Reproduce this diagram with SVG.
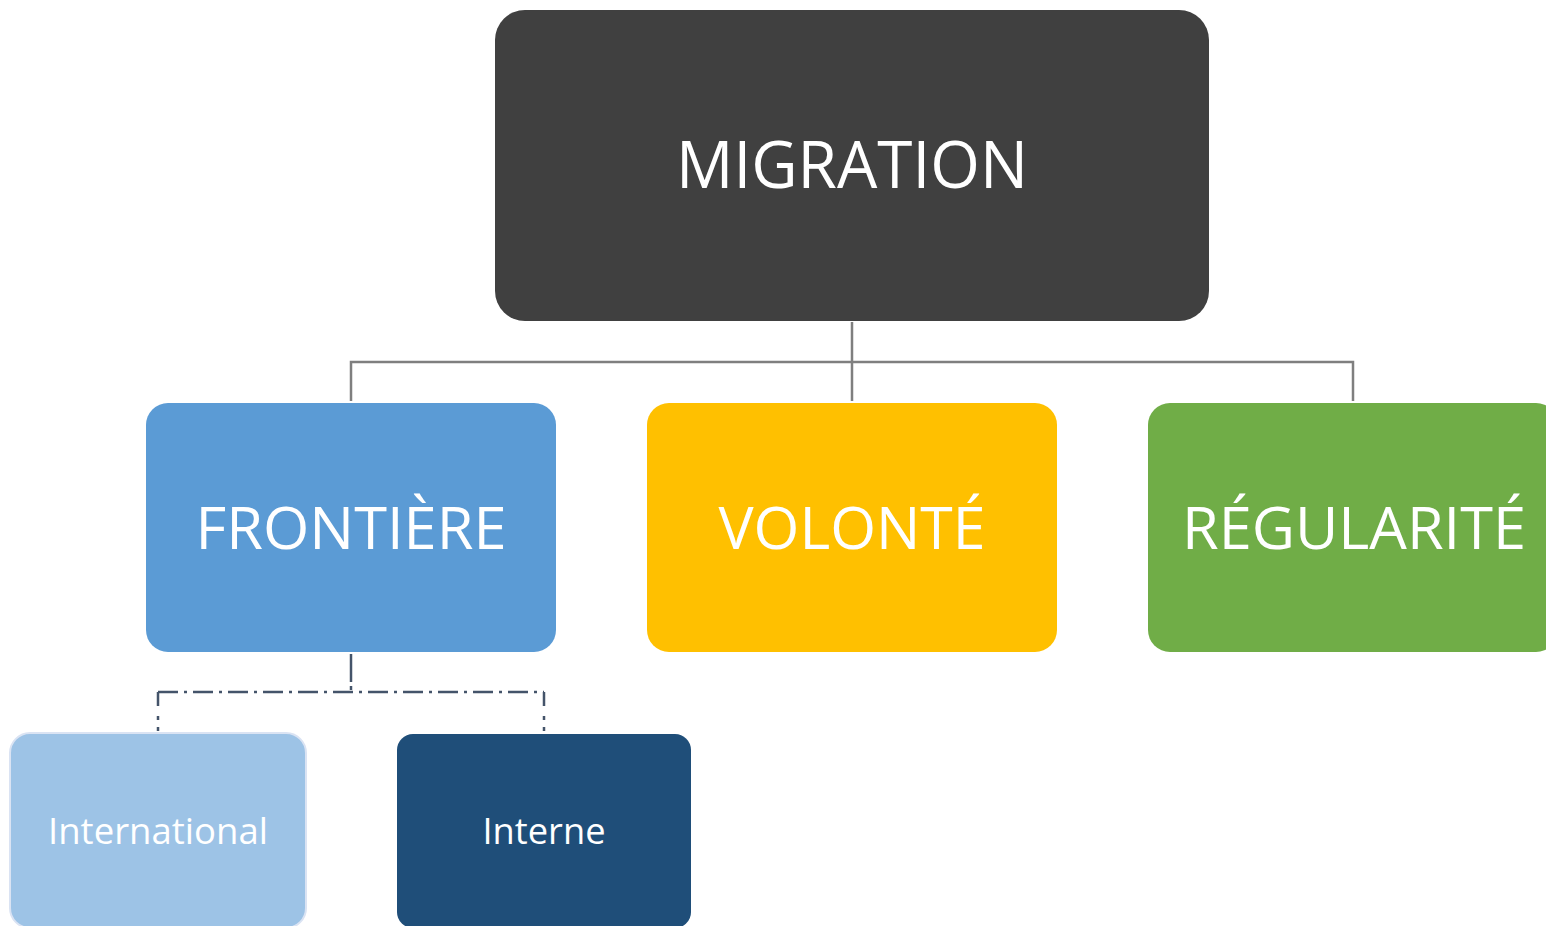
<svg xmlns="http://www.w3.org/2000/svg" width="1546" height="926" viewBox="0 0 1546 926">
<style>
.t{font-family:"Open Sans","Noto Sans","Liberation Sans",sans-serif;fill:#ffffff;text-anchor:middle}
.big{font-size:66px}
.mid{font-size:58px}
.small{font-size:36px}
.c1{fill:none;stroke:#7f7f7f;stroke-width:2.5}
.c2{fill:none;stroke:#44546a;stroke-width:2.5}
</style>
<rect width="1546" height="926" fill="#ffffff"/>
<g id="connectors">
<path class="c1" d="M852 322V401M351 401V362H1353V401"/>
<path class="c2" d="M351 654V682"/>
<path class="c2" d="M351 686V690"/>
<path class="c2" d="M158 692H544" stroke-dasharray="20 6 3 6"/>
<path class="c2" d="M158 692V706M544 692V706"/>
<path class="c2" d="M158 716V720M158 727V731M544 716V720M544 727V731"/>
</g>
<g id="migration">
<rect x="495" y="10" width="714" height="311" rx="30" fill="#404040"/>
<text class="t big" x="852" y="188" textLength="352" lengthAdjust="spacingAndGlyphs">MIGRATION</text>
</g>
<g id="frontiere">
<rect x="146" y="403" width="410" height="249" rx="22" fill="#5b9bd5"/>
<text class="t mid" x="351" y="549" textLength="311" lengthAdjust="spacingAndGlyphs">FRONTIÈRE</text>
</g>
<g id="volonte">
<rect x="647" y="403" width="410" height="249" rx="22" fill="#ffc000"/>
<text class="t mid" x="852" y="549" textLength="267" lengthAdjust="spacingAndGlyphs">VOLONTÉ</text>
</g>
<g id="regularite">
<rect x="1148" y="403" width="410" height="249" rx="22" fill="#70ad47"/>
<text class="t mid" x="1354" y="549" textLength="344" lengthAdjust="spacingAndGlyphs">RÉGULARITÉ</text>
</g>
<g id="international">
<rect x="10" y="733" width="296" height="195" rx="20" fill="#9dc3e6" stroke="#dae3f3" stroke-width="2"/>
<text class="t small" x="158" y="844" textLength="220" lengthAdjust="spacingAndGlyphs">International</text>
</g>
<g id="interne">
<rect x="397" y="734" width="294" height="194" rx="16" fill="#1f4e79"/>
<text class="t small" x="544" y="844" textLength="123" lengthAdjust="spacingAndGlyphs">Interne</text>
</g>
</svg>
